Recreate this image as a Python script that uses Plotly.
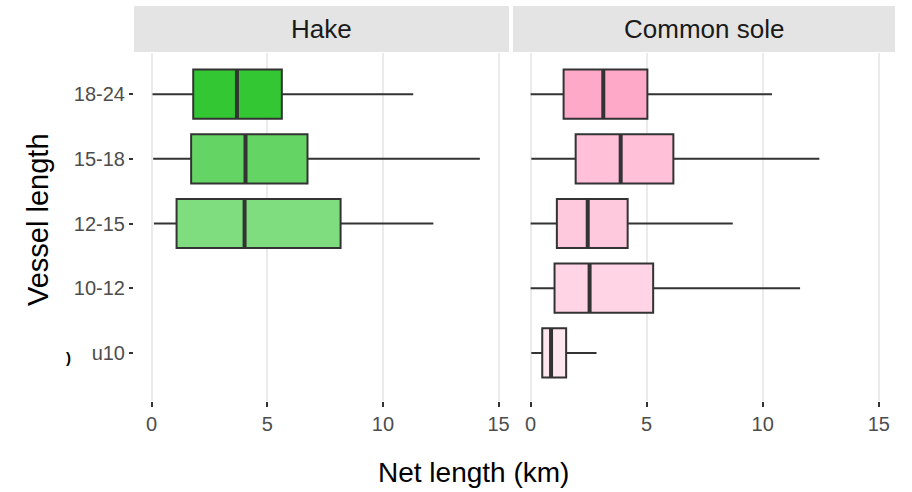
import plotly.graph_objects as go

# Vessel length classes, bottom to top
vessel_classes = ["u10", "10-12", "12-15", "15-18", "18-24"]

# Hake: net length summaries (km) per vessel class
hake_classes = ["12-15", "15-18", "18-24"]
hake_low = [0.10, 0.07, 0.04]
hake_q1 = [1.08, 1.71, 1.80]
hake_med = [4.02, 4.06, 3.69]
hake_q3 = [8.17, 6.74, 5.63]
hake_high = [12.18, 14.19, 11.31]
hake_colors = ["#7FDC7F", "#64D464", "#33C733"]

# Common sole: net length summaries (km) per vessel class
sole_classes = ["u10", "10-12", "12-15", "15-18", "18-24"]
sole_low = [0.03, 0.00, 0.00, 0.03, 0.00]
sole_q1 = [0.50, 1.03, 1.13, 1.94, 1.42]
sole_med = [0.88, 2.54, 2.46, 3.88, 3.13]
sole_q3 = [1.53, 5.28, 4.18, 6.15, 5.03]
sole_high = [2.84, 11.61, 8.71, 12.44, 10.40]
sole_colors = ["#FFE7EF", "#FFD4E4", "#FFC9DD", "#FFC0D8", "#FFA9C8"]

panels = ["Hake", "Common sole"]
x_ticks = [0, 5, 10, 15]

W, H = 912, 492
BOX_W = 0.76
EDGE = "#333333"
FONT = "Liberation Sans, Arial, sans-serif"
pos = {c: i for i, c in enumerate(vessel_classes)}

fig = go.Figure()


def add_group(classes, low, q1, med, q3, high, colors, xa, ya):
    for c, lo, a, m, b, hi, col in zip(classes, low, q1, med, q3, high, colors):
        y = pos[c]
        fig.add_trace(go.Box(
            orientation="h", y=[y], q1=[a], median=[m], q3=[b],
            lowerfence=[lo], upperfence=[hi], width=BOX_W,
            fillcolor=col, line=dict(color=EDGE, width=2),
            whiskerwidth=0, boxpoints=False, showlegend=False,
            xaxis=xa, yaxis=ya, name=c))
        # heavier median stroke
        fig.add_trace(go.Scatter(
            x=[m, m], y=[y - BOX_W / 2, y + BOX_W / 2], mode="lines",
            line=dict(color=EDGE, width=4), showlegend=False,
            hoverinfo="skip", xaxis=xa, yaxis=ya))


add_group(hake_classes, hake_low, hake_q1, hake_med, hake_q3, hake_high,
          hake_colors, "x", "y")
add_group(sole_classes, sole_low, sole_q1, sole_med, sole_q3, sole_high,
          sole_colors, "x2", "y2")

# panel geometry in pixels
left_px = (134, 509)
right_px = (513, 895)
top_px, bottom_px = 53, 401
strip_px = (6, 52)


def px_x(p):
    return p / W


def px_y(p):
    return 1 - p / H


ydom = [px_y(bottom_px), px_y(top_px)]
yrange = [-0.744, 4.636]

tick_font = dict(family=FONT, size=20, color="#4d4d4d")
xaxis_common = dict(
    tickvals=x_ticks, ticks="outside", ticklen=5, tickwidth=1.5, tickcolor=EDGE,
    showgrid=True, gridcolor="#ebebeb", gridwidth=1.5, zeroline=False,
    showline=False, tickfont=tick_font, fixedrange=True,
)

fig.update_layout(
    width=W, height=H,
    margin=dict(l=0, r=0, t=0, b=0),
    paper_bgcolor="white", plot_bgcolor="white",
    font=dict(family=FONT),
    xaxis=dict(domain=[px_x(left_px[0]), px_x(left_px[1])], range=[-0.76, 15.45],
               anchor="y", **xaxis_common),
    xaxis2=dict(domain=[px_x(right_px[0]), px_x(right_px[1])], range=[-0.76, 15.7],
                anchor="y2", **xaxis_common),
    yaxis=dict(domain=ydom, range=yrange, tickvals=list(range(len(vessel_classes))),
               ticktext=vessel_classes, ticks="outside", ticklen=4, tickwidth=1.5,
               tickcolor=EDGE, showgrid=False, zeroline=False, showline=False,
               tickfont=tick_font, anchor="x", fixedrange=True),
    yaxis2=dict(domain=ydom, range=yrange, showticklabels=False, ticks="",
                showgrid=False, zeroline=False, showline=False, anchor="x2",
                fixedrange=True),
)

# facet strips
for name, (x0, x1) in zip(panels, [left_px, right_px]):
    fig.add_shape(type="rect", xref="paper", yref="paper",
                  x0=px_x(x0), x1=px_x(x1), y0=px_y(strip_px[1]), y1=px_y(strip_px[0]),
                  fillcolor="#e4e4e4", line=dict(width=0), layer="below")
    fig.add_annotation(text=name, xref="paper", yref="paper",
                       x=px_x((x0 + x1) / 2), y=px_y(sum(strip_px) / 2),
                       showarrow=False, xanchor="center", yanchor="middle",
                       font=dict(size=26, color="#1a1a1a"))

# axis titles
fig.add_annotation(text="Net length (km)", xref="paper", yref="paper",
                   x=px_x(473), y=px_y(472), showarrow=False,
                   xanchor="center", yanchor="middle",
                   font=dict(size=28, color="black"))
fig.add_annotation(text="Vessel length", xref="paper", yref="paper",
                   x=px_x(38), y=px_y(220), showarrow=False, textangle=-90,
                   xanchor="center", yanchor="middle",
                   font=dict(size=29, color="black"))
fig.add_annotation(text="<b>)</b>", xref="paper", yref="paper",
                   x=px_x(68), y=px_y(357), showarrow=False,
                   xanchor="center", yanchor="middle",
                   font=dict(size=15, color="black", family=FONT))

fig.write_html("out.html")
